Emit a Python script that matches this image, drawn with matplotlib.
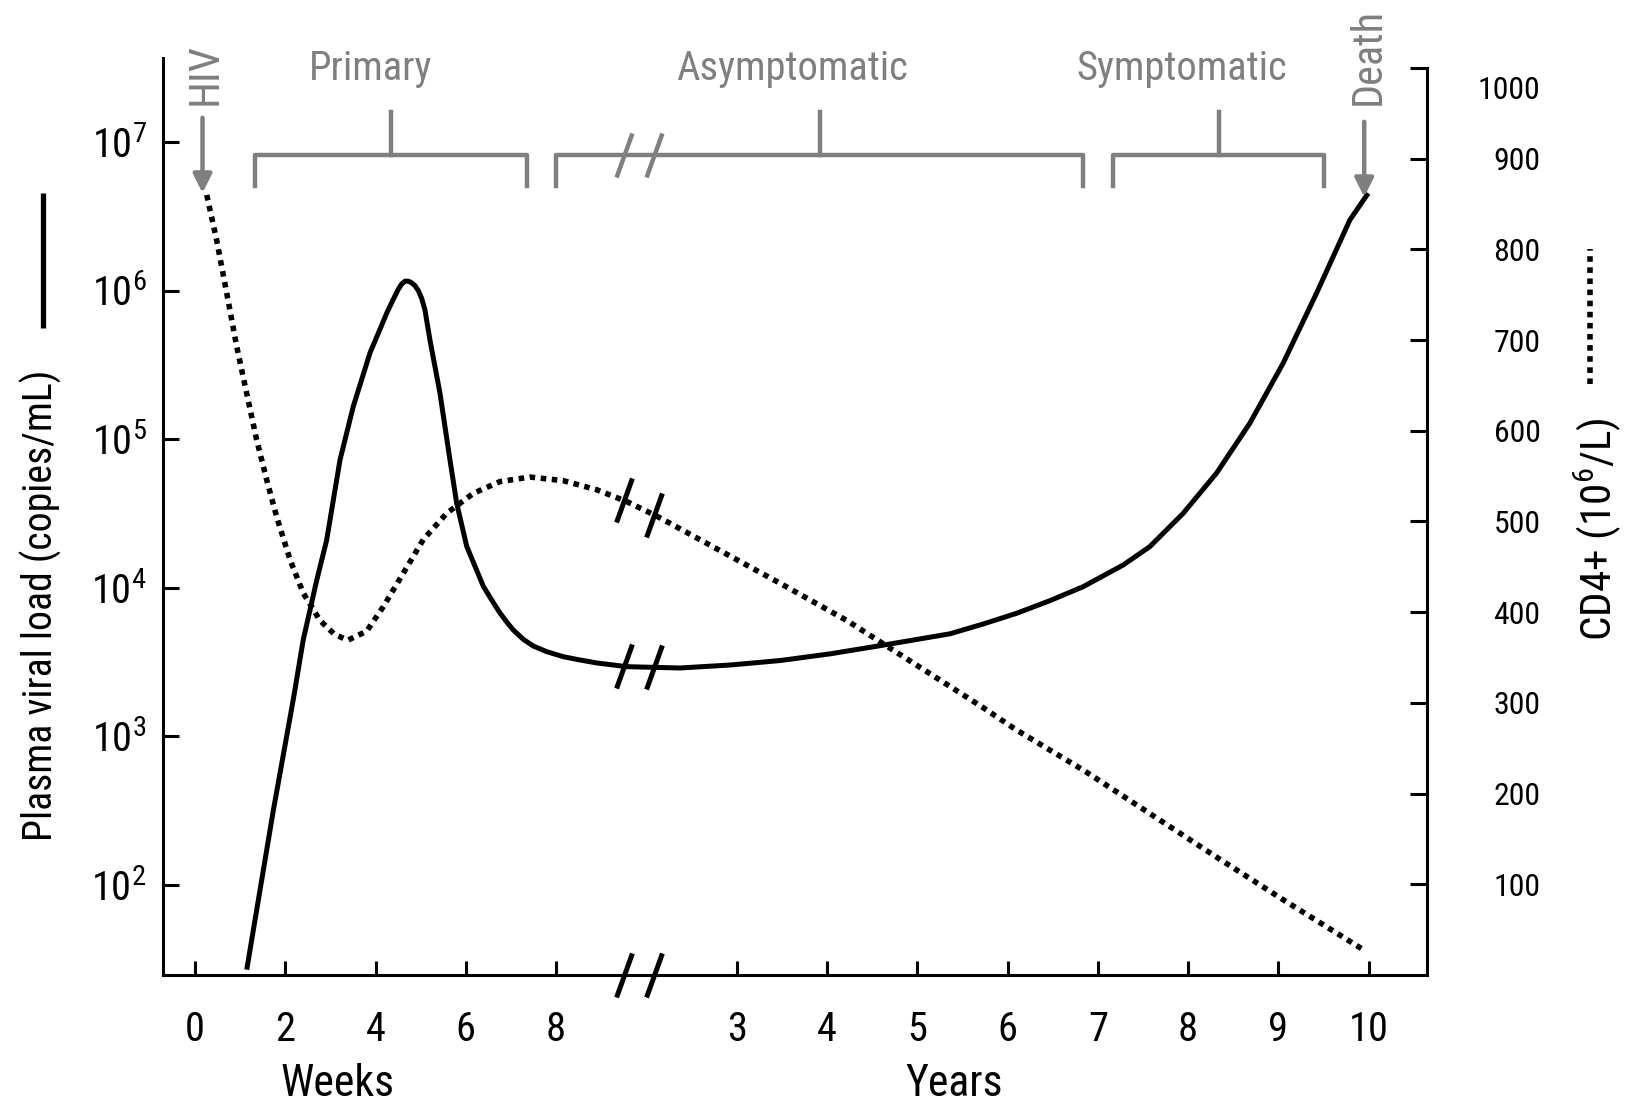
import numpy as np
import matplotlib
matplotlib.use("Agg")
import matplotlib.pyplot as plt
from matplotlib import font_manager as fm
from matplotlib.font_manager import FontProperties
from matplotlib.lines import Line2D
from matplotlib.markers import MarkerStyle
from matplotlib.path import Path
import matplotlib.transforms as mtrans

# x positions are on one axis: weeks 0-8 -> 0-4 (week / 2), years 3-10 -> 6-13 (year + 3)
week_ticks = [0, 2, 4, 6, 8]
year_ticks = [3, 4, 5, 6, 7, 8, 9, 10]

# plasma viral load, log10(copies/mL)
viral_x = [0.573, 0.867, 1.089, 1.199, 1.348, 1.458, 1.606, 1.753, 1.938, 2.123,
           2.196, 2.252, 2.289, 2.326, 2.362, 2.399, 2.436, 2.473, 2.510, 2.547,
           2.602, 2.713, 2.824, 2.898, 3.009, 3.193, 3.304, 3.378, 3.452, 3.525,
           3.636, 3.746, 3.895, 4.079, 4.264, 4.449, 4.781, 5.371, 5.925, 6.478,
           7.032, 7.586, 8.361, 8.730, 9.100, 9.468, 9.837, 10.280, 10.576,
           10.945, 11.314, 11.683, 12.052, 12.422, 12.791, 12.994]
viral_log = [1.43, 2.50, 3.25, 3.65, 4.05, 4.32, 4.86, 5.22, 5.58, 5.847,
             5.941, 6.009, 6.044, 6.063, 6.063, 6.053, 6.033, 6.0, 5.948, 5.869,
             5.668, 5.31, 4.86, 4.57, 4.28, 4.01, 3.90, 3.83, 3.77, 3.716,
             3.653, 3.608, 3.570, 3.536, 3.514, 3.494, 3.469, 3.46, 3.48, 3.51,
             3.555, 3.61, 3.69, 3.756, 3.828, 3.913, 4.007, 4.153, 4.277,
             4.501, 4.771, 5.107, 5.511, 5.982, 6.475, 6.655]

# CD4+ count (10^6/L)
cd4_x = [0.130, 0.240, 0.351, 0.462, 0.573, 0.683, 0.794, 0.905, 1.052, 1.199,
         1.384, 1.540, 1.690, 1.901, 2.085, 2.307, 2.528, 2.787, 3.082, 3.378,
         3.710, 4.079, 4.449, 4.781, 5.113, 5.740, 6.478, 7.217, 7.955, 8.726,
         9.100, 9.837, 10.576, 11.314, 12.052, 12.938]
cd4_val = [860, 810, 752, 693, 641, 590, 546, 505, 458, 421,
           391, 376, 369, 379, 406, 443, 480, 509, 531, 544,
           549, 545, 535, 522, 506, 472, 432, 391, 344, 295,
           270, 226, 178, 130, 83, 28]

phase_names = ["Primary", "Asymptomatic", "Symptomatic"]
phase_start = [0.664, 4.002, 10.170]
phase_end = [3.673, 9.837, 12.503]
phase_label_x = [1.95, 6.61, 10.93]

event_names = ["HIV", "Death"]
event_x = [0.083, 12.95]
event_label_x = [0.111, 12.99]

break_x = [4.75, 5.08]

GRAY = "#7f7f7f"

# pick a narrow sans if one is installed
installed = {f.name for f in fm.fontManager.ttflist}
narrow = "Liberation Sans"
for cand in ["Liberation Sans Narrow", "Arial Narrow", "Nimbus Sans Narrow",
             "Roboto Condensed", "Archivo Narrow", "PT Sans Narrow",
             "Fira Sans Condensed", "IBM Plex Sans Condensed"]:
    if cand in installed:
        narrow = cand
        break
FAM = [narrow, "DejaVu Sans"]
plt.rcParams["font.family"] = FAM
plt.rcParams["mathtext.fontset"] = "custom"
plt.rcParams["mathtext.rm"] = narrow

fig = plt.figure(figsize=(16.26, 11.07), dpi=100)
renderer = fig.canvas.get_renderer()


def fit(text, px):
    # font size (pt) that makes text about px pixels long
    w, h, d = renderer.get_text_width_height_descent(
        text, FontProperties(family=FAM, size=100), ismath=False)
    return 100.0 * px / w


fs_tick = fit("10", 40)
fs_right = fit("1000", 63)
fs_phase = fit("Asymptomatic", 232)
fs_cap = fit("Weeks", 114)
fs_ylab = fit("Plasma viral load (copies/mL)", 471)
fs_cd4 = fit("CD4+ (10 /L)", 218)
fs_events = [fit("HIV", 62), fit("Death", 97)]

ax = fig.add_axes([0.10055, 0.11924, 0.77676, 0.82837])
ax2 = ax.twinx()

# left axis: viral load
ax.plot(viral_x, 10 ** np.array(viral_log), color="black", lw=3.6,
        solid_capstyle="butt", solid_joinstyle="round", zorder=3)
ax.set_yscale("log")
ax.set_ylim(10 ** 1.394, 10 ** 7.565)
ax.set_xlim(-0.349, 13.64)
ax.yaxis.set_minor_locator(matplotlib.ticker.NullLocator())
ax.set_yticks([10.0 ** k for k in range(2, 8)])
ax.set_yticklabels([r"$\mathregular{10^{%d}}$" % k for k in range(2, 8)],
                   fontsize=fs_tick)

tick_pos = [w / 2 for w in week_ticks] + [y + 3 for y in year_ticks]
tick_lab = [str(w) for w in week_ticks] + [str(y) for y in year_ticks]
ax.set_xticks(tick_pos)
ax.set_xticklabels(tick_lab, fontsize=fs_tick)

ax.tick_params(axis="x", direction="in", length=10, width=2.2, pad=25)
ax.tick_params(axis="y", direction="in", length=11.5, width=2.2, pad=12)
for s in ["top", "right"]:
    ax.spines[s].set_visible(False)
for s in ["left", "bottom"]:
    ax.spines[s].set_linewidth(2.2)

# right axis: CD4
ax2.plot(cd4_x, cd4_val, color="black", lw=4, linestyle=(0, (1, 1)),
         dash_capstyle="butt", zorder=3)
ax2.set_ylim(0, 1011)
ax2.set_yticks(range(100, 1001, 100))
ax2.set_yticklabels([str(v) for v in range(100, 1001, 100)], fontsize=fs_right)
ax2.tick_params(axis="y", direction="in", length=12, width=2.2, pad=82)
plt.setp(ax2.get_yticklabels(), ha="right")
top_lab = ax2.get_yticklabels()[-1]
top_lab.set_transform(top_lab.get_transform() +
                      mtrans.ScaledTranslation(0, -0.2, fig.dpi_scale_trans))
for s in ["top", "left", "bottom"]:
    ax2.spines[s].set_visible(False)
ax2.spines["right"].set_linewidth(2.2)
ax2.spines["right"].set_bounds(0, 1000)

# axis break marks
slash = MarkerStyle(Path([(-0.36, -1.0), (0.36, 1.0)], [Path.MOVETO, Path.LINETO]))
bk = dict(marker=slash, ms=31.7, mew=3.6, mfc="none", ls="none", clip_on=False, zorder=5)
ax.plot(break_x, 10 ** np.interp(break_x, viral_x, viral_log), mec="black", **bk)
ax2.plot(break_x, np.interp(break_x, cd4_x, cd4_val), mec="black", **bk)
xt = ax.get_xaxis_transform()
ax.plot(break_x, [0, 0], transform=xt, mec="black", **bk)

# phase brackets
line_y, leg_y, stem_y = 0.8942, 0.8604, 0.9411
for name, a, b, lx in zip(phase_names, phase_start, phase_end, phase_label_x):
    mid = (a + b) / 2
    ax.plot([a, a, b, b], [leg_y, line_y, line_y, leg_y], transform=xt, color=GRAY,
            lw=3.2, clip_on=False)
    ax.plot([mid, mid], [line_y, stem_y], transform=xt, color=GRAY, lw=3.2,
            clip_on=False)
    ax.text(lx, 0.976, name, transform=xt, ha="center", va="baseline",
            fontsize=fs_phase, color=GRAY)
ax.plot(break_x, [line_y, line_y], transform=xt, mec=GRAY, **dict(bk, mew=3.2))

# HIV / Death arrows
for name, x, lx, ty, ly, fs in zip(event_names, event_x, event_label_x,
                                   [0.8528, 0.8484], [0.9826, 1.0011], fs_events):
    ax.annotate("", xy=(x, ty), xytext=(x, ty + 0.082), xycoords=xt,
                arrowprops=dict(arrowstyle="-|>,head_length=0.8,head_width=0.4",
                                color=GRAY, lw=3.2, mutation_scale=14,
                                shrinkA=0, shrinkB=0), annotation_clip=False)
    ax.text(lx, ly, name, transform=xt, rotation=90, ha="center", va="center",
            fontsize=fs, color=GRAY)

# x axis captions
ax.text(1.58, -0.119, "Weeks", transform=xt, ha="center", va="center",
        fontsize=fs_cap)
ax.text(8.41, -0.119, "Years", transform=xt, ha="center", va="center",
        fontsize=fs_cap)

# y axis captions with line samples
fig.text(0.0252, 0.4530, "Plasma viral load (copies/mL)", rotation=90,
         ha="center", va="center", fontsize=fs_ylab)
fig.text(0.9828, 0.5221, r"CD4+ (10$^{\mathregular{6}}$/L)", rotation=90,
         ha="center", va="center", fontsize=fs_cd4)
fig.add_artist(Line2D([0.0265, 0.0265], [0.7037, 0.8257], color="black", lw=3.8,
                      solid_capstyle="butt"))
fig.add_artist(Line2D([0.9779, 0.9779], [0.6531, 0.7751], color="black", lw=4,
                      linestyle=(0, (1, 1)), dash_capstyle="butt"))

fig.savefig("out.png", dpi=100)
